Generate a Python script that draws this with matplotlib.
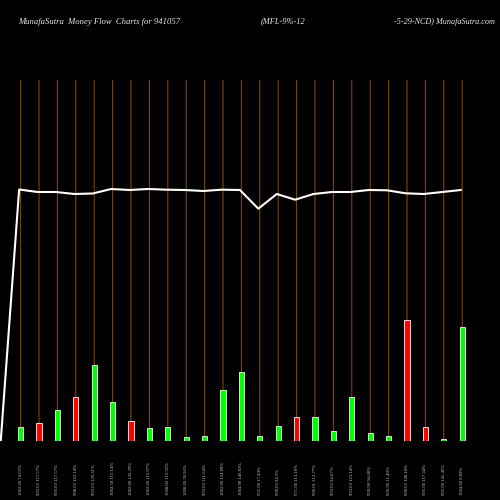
import matplotlib
matplotlib.use("Agg")
import matplotlib.pyplot as plt

volumes = [14, 18, 31, 44, 76, 39, 20, 13, 14, 4, 5, 51, 69, 5, 15, 24, 24, 10, 44, 8, 5, 121, 14, 2, 114]
directions = ["g", "r", "g", "r", "g", "g", "r", "g", "g", "g", "g", "g", "g",
              "g", "g", "r", "g", "g", "g", "g", "g", "r", "r", "g", "g"]
flow = [0, 251.5, 249, 249, 247, 247.5, 252, 251, 252, 251.3, 251, 250, 251.3, 251,
        232.3, 247, 241.3, 247, 249, 249, 251, 250.7, 247.7, 247, 249, 251]
labels = ["1002.00 74.02%", "993.00 117.57%", "993.00 117.57%", "998.00 122.14%", "993.00 120.31%",
          "1002.50 115.14%", "1002.00 126.29%", "1002.00 115.07%", "1000.00 115.35%", "1000.00 78.56%",
          "993.00 111.64%", "1002.00 124.89%", "1004.00 146.83%", "951.00 17.44%", "990.00 94.5%",
          "971.00 113.18%", "990.01 112.77%", "993.00 94.67%", "993.00 123.14%", "999.99 94.68%",
          "999.90 11.40%", "990.00 148.18%", "995.00 117.44%", "995.00 141.45%", "1004.00 8.89%"]

fig = plt.figure(figsize=(5, 5), dpi=100, facecolor="black")
ax = fig.add_axes([0, 59 / 500, 1, 361 / 500], facecolor="black")
ax.set_xlim(-2.2 / 18.4, (500 - 2.2) / 18.4)
ax.set_ylim(0, 361)

xs = list(range(1, len(volumes) + 1))
rules = ax.vlines(xs, 0, 361, color="#8a4c00", lw=0.72, zorder=1)
rules.set_snap(False)

colors = ["#00ff00" if d == "g" else "#ff0000" for d in directions]
ax.bar(xs, volumes, width=0.29, color=colors, edgecolor="#d8d8d8", linewidth=0.75, zorder=2)
flow_x = [i - 0.08 for i in range(len(flow))]
ax.plot(flow_x, flow, color="white", lw=1.5, zorder=3, solid_joinstyle="round")

for s in ax.spines.values():
    s.set_visible(False)
ax.set_yticks([])
ax.set_xticks(xs)
ax.set_xticklabels(labels, rotation=90, fontsize=3.4, color="#c8c8c8", family="Liberation Serif")
ax.tick_params(axis="x", length=0, pad=39)
for t in ax.get_xticklabels():
    t.set_verticalalignment("bottom")

title_kw = dict(color="#e8e8e8", family="Liberation Serif", style="italic", va="center")
fig.text(18 / 500, 1 - 21.5 / 500, "MunafaSutra  Money Flow  Charts for 941057", fontsize=6.2, **title_kw)
fig.text(261 / 500, 1 - 21.5 / 500, "(MFL-9%-12", fontsize=6.0, **title_kw)
fig.text(394 / 500, 1 - 21.5 / 500, "-5-29-NCD) MunafaSutra.com", fontsize=5.9, **title_kw)

fig.savefig("out.png", dpi=100, facecolor="black")
